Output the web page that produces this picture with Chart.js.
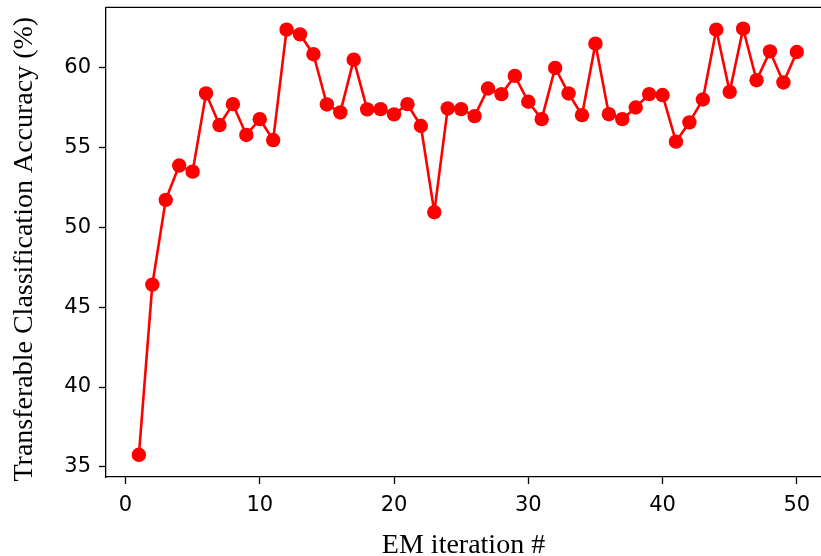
<!DOCTYPE html>
<html>
<head>
<meta charset="utf-8">
<script src="https://cdn.jsdelivr.net/npm/chart.js@4/dist/chart.umd.min.js"></script>
<style>
  html, body { margin: 0; padding: 0; background: #fff; overflow: hidden; width: 821px; height: 556px; }
  #wrap { position: absolute; left: 0; top: 0; width: 821px; height: 556px; }
  canvas { display: block; }
</style>
</head>
<body>
<div id="wrap"><canvas id="c" width="821" height="556"></canvas></div>
<script>
const iterations = [1,2,3,4,5,6,7,8,9,10,11,12,13,14,15,16,17,18,19,20,21,22,23,24,25,26,27,28,29,30,31,32,33,34,35,36,37,38,39,40,41,42,43,44,45,46,47,48,49,50];
const accuracy = [35.75,46.42,51.73,53.88,53.50,58.40,56.42,57.73,55.80,56.79,55.48,62.40,62.10,60.86,57.71,57.21,60.52,57.40,57.42,57.09,57.73,56.36,50.96,57.46,57.42,56.98,58.71,58.36,59.50,57.88,56.79,60.00,58.40,57.04,61.52,57.10,56.79,57.52,58.36,58.30,55.38,56.59,58.02,62.40,58.50,62.46,59.23,61.04,59.09,61.00];
const xTicks = [0,10,20,30,40,50];
const yTicks = [35,40,45,50,55,60];
const xLabel = 'EM iteration #';
const yLabel = 'Transferable Classification Accuracy (%)';

const points = iterations.map((x, i) => ({x: x, y: accuracy[i]}));

const frameAndLabel = {
  id: 'frameAndLabel',
  afterDraw(chart) {
    const a = chart.chartArea, ctx = chart.ctx;
    ctx.save();
    ctx.strokeStyle = '#000';
    ctx.lineWidth = 1.3;
    ctx.beginPath();
    ctx.moveTo(a.left, a.top);
    ctx.lineTo(a.right, a.top);
    ctx.stroke();
    ctx.translate(24.8, 249.2);
    ctx.rotate(-Math.PI / 2);
    ctx.fillStyle = '#000';
    ctx.font = '28px "Liberation Serif"';
    ctx.textAlign = 'center';
    ctx.textBaseline = 'middle';
    ctx.fillText(yLabel, 0, 0);
    ctx.restore();
  }
};

new Chart(document.getElementById('c'), {
  type: 'line',
  data: {
    datasets: [{
      data: points,
      borderColor: '#ff0000',
      backgroundColor: '#ff0000',
      borderWidth: 2.6,
      pointRadius: 7.2,
      pointHoverRadius: 7.2,
      pointBorderWidth: 0,
      pointBackgroundColor: '#ff0000',
      tension: 0,
      fill: false
    }]
  },
  options: {
    responsive: false,
    devicePixelRatio: 1,
    animation: false,
    events: [],
    layout: { autoPadding: false, padding: { top: 7.3, right: 0, left: 0, bottom: 0 } },
    plugins: { legend: { display: false }, tooltip: { enabled: false } },
    scales: {
      x: {
        type: 'linear',
        min: -1.45,
        max: 51.8,
        afterBuildTicks: s => { s.ticks = xTicks.map(v => ({value: v})); },
        afterFit: s => { s.height = 79; s.paddingLeft = 0; s.paddingRight = 0; },
        grid: { drawOnChartArea: false, tickLength: 7, tickColor: '#000', tickWidth: 1.3 },
        border: { color: '#000', width: 1.3 },
        ticks: { color: '#000', font: { family: 'DejaVu Sans', size: 21 }, padding: 9, maxRotation: 0 },
        title: { display: true, text: xLabel, color: '#000', font: { family: 'Liberation Serif', size: 28 }, padding: { top: 0, bottom: -6.5 } }
      },
      y: {
        type: 'linear',
        min: 34.36,
        max: 63.8,
        afterBuildTicks: s => { s.ticks = yTicks.map(v => ({value: v})); },
        afterFit: s => { s.width = 106; s.paddingTop = 0; s.paddingBottom = 0; },
        grid: { drawOnChartArea: false, tickLength: 7, tickColor: '#000', tickWidth: 1.3 },
        border: { color: '#000', width: 1.3 },
        ticks: { color: '#000', font: { family: 'DejaVu Sans', size: 21 }, padding: 8 },
        title: { display: false }
      }
    }
  },
  plugins: [frameAndLabel]
});
</script>
</body>
</html>
